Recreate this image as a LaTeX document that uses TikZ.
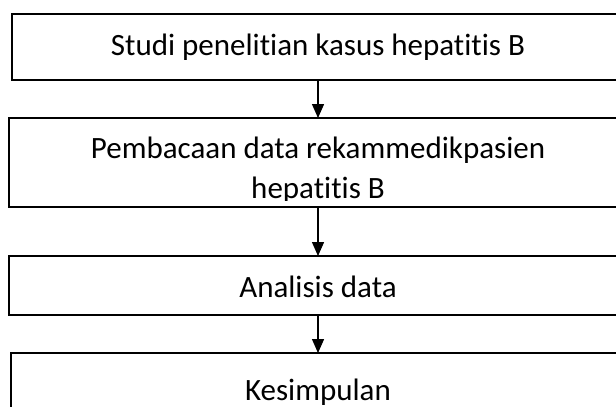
\documentclass[tikz,border=0pt]{standalone}
\usepackage{fontspec}
\setmainfont{Carlito}[RawFeature=-liga]
\usetikzlibrary{arrows.meta, positioning}

\begin{document}
\begin{tikzpicture}[x=1pt, y=-1pt, font=\fontsize{31}{38}\selectfont,
    stepbox/.style={draw, line width=1.6pt, inner sep=0pt, outer sep=0pt,
      minimum width=618pt, text height=22pt, text depth=6pt},
    steptext/.style={inner sep=0pt},
    flow/.style={-{Triangle[length=14pt, width=12pt]}, line width=1.4pt}]
  \useasboundingbox (0,0) rectangle (616,407);
  \clip (0,0) rectangle (616,407);
  % boxes of the flow
  \node[stepbox, minimum width=612pt, minimum height=66pt] (studi) at (318,47) {Studi penelitian kasus hepatitis B};
  \node[stepbox, minimum height=89pt] (baca) at (318,162.5) {};
  \begin{scope}
    \clip (0,118) rectangle (616,200);
    \node[steptext, anchor=base] (bacaA) at (318,158) {Pembacaan data rekammedikpasien};
    \node[steptext, anchor=base] (bacaB) at (318,198) {hepatitis B};
  \end{scope}
  \node[stepbox, minimum height=59pt, text height=26pt, text depth=3pt] (analisis) at (318,285.5) {Analisis data};
  \node[stepbox, minimum width=614pt, minimum height=78pt] (simpulan) at (318,392) {Kesimpulan};
  % arrows
  \draw[flow] (studi.south) -- (baca.north);
  \draw[flow] (baca.south) -- (analisis.north);
  \draw[flow] (analisis.south) -- (simpulan.north);
\end{tikzpicture}
\end{document}
